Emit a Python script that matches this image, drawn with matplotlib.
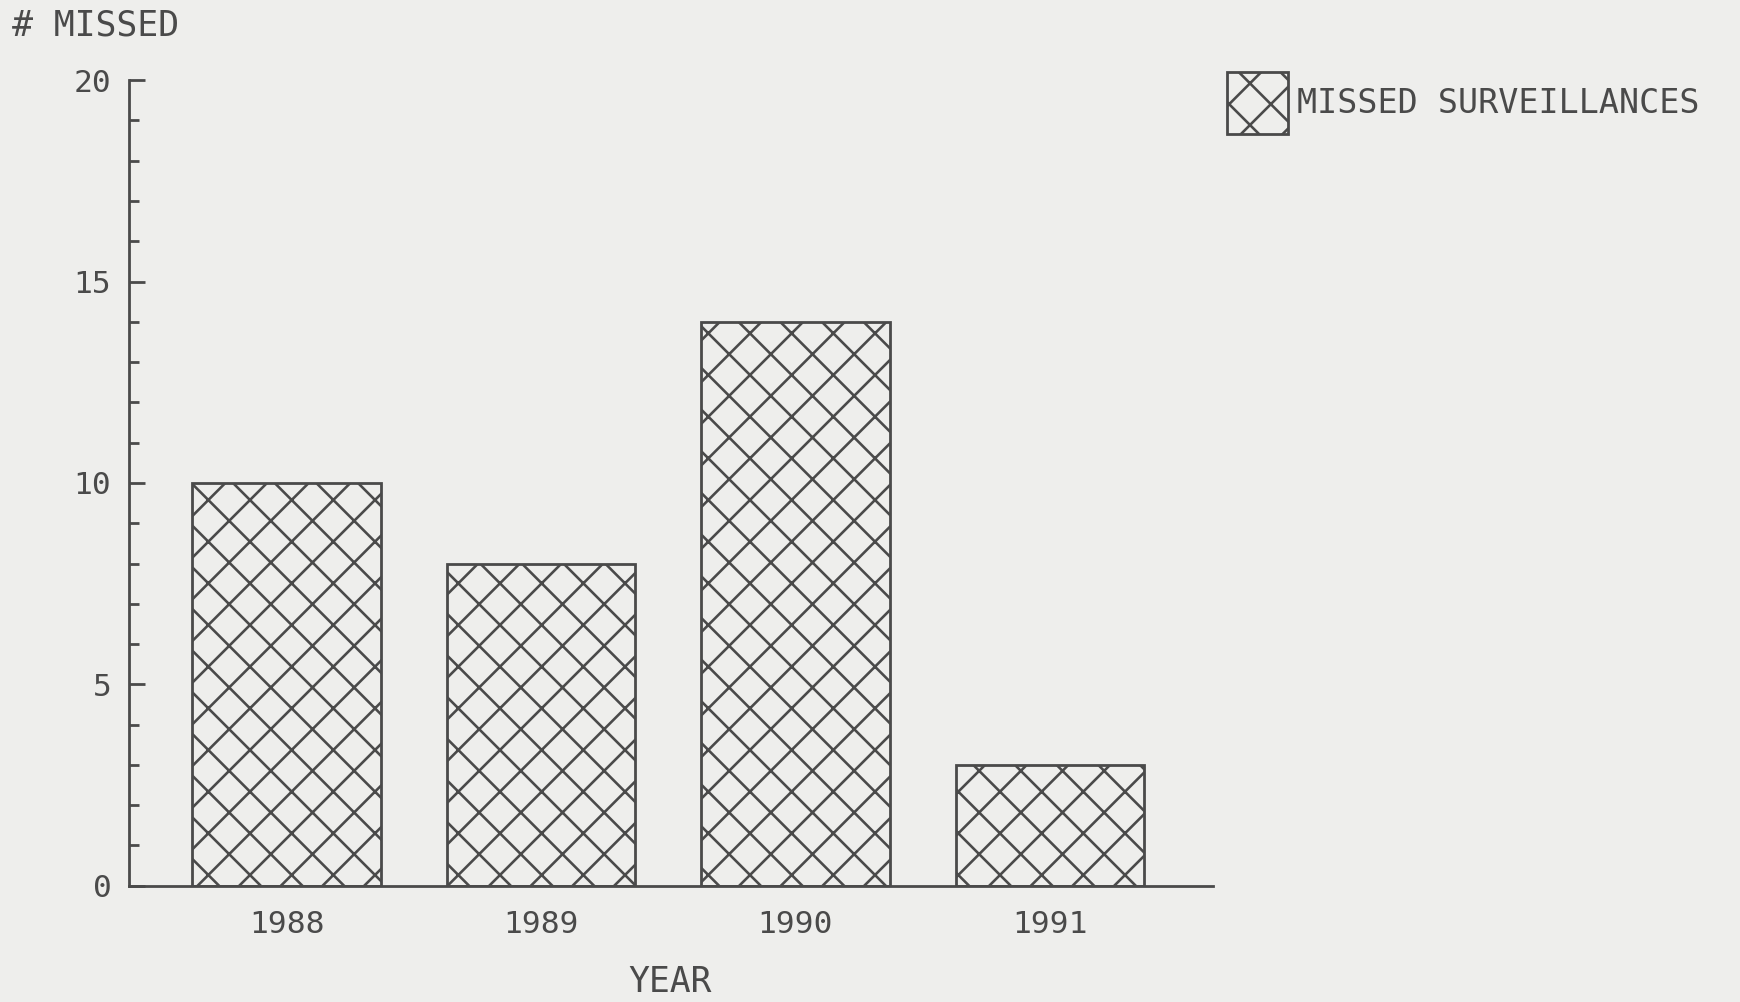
import numpy as np
import matplotlib
matplotlib.use("Agg")
import matplotlib.pyplot as plt

years = ["1988", "1989", "1990", "1991"]
missed = [10, 8, 14, 3]

ink = "#4a4a4a"
paper = "#eeeeec"

plt.rcParams["font.family"] = ["DejaVu Sans Mono"]
plt.rcParams["hatch.linewidth"] = 0.75
plt.rcParams["hatch.color"] = ink

# dpi 250 so the hatch comes out with the coarse spacing of the original
fig = plt.figure(figsize=(6.96, 4.008), dpi=250, facecolor=paper)
ax = fig.add_axes([0.074, 0.116, 0.623, 0.804], facecolor=paper)

x = np.arange(len(years))
ax.bar(x, missed, width=0.74, facecolor=paper, edgecolor=ink,
       linewidth=0.8, hatch="xx", label="MISSED SURVEILLANCES")

ax.set_xlim(-0.62, 3.64)
ax.set_ylim(0, 20)
ax.set_xticks(x)
ax.set_xticklabels(years)
ax.set_yticks([0, 5, 10, 15, 20])
ax.set_yticks(np.arange(0, 21, 1), minor=True)

for s in ["top", "right"]:
    ax.spines[s].set_visible(False)
for s in ["left", "bottom"]:
    ax.spines[s].set_color(ink)
    ax.spines[s].set_linewidth(0.8)

ax.tick_params(axis="y", which="major", direction="in", length=4.5,
               width=0.8, color=ink, labelcolor=ink, labelsize=9, pad=5)
ax.tick_params(axis="y", which="minor", direction="in", length=2.8,
               width=0.8, color=ink)
ax.tick_params(axis="x", length=0, labelcolor=ink, labelsize=9, pad=7)

fig.text(0.007, 0.975, "# MISSED", color=ink, fontsize=10, va="center", ha="left")
fig.text(0.385, 0.02, "YEAR", color=ink, fontsize=10, va="center", ha="center")

fig.legend(loc="upper left", bbox_to_anchor=(0.705, 0.928), frameon=False,
           fontsize=9.6, handlelength=1.85, handleheight=2.5,
           handletextpad=0.25, labelcolor=ink, borderaxespad=0, borderpad=0)

fig.savefig("out.png", dpi=250, facecolor=paper)
